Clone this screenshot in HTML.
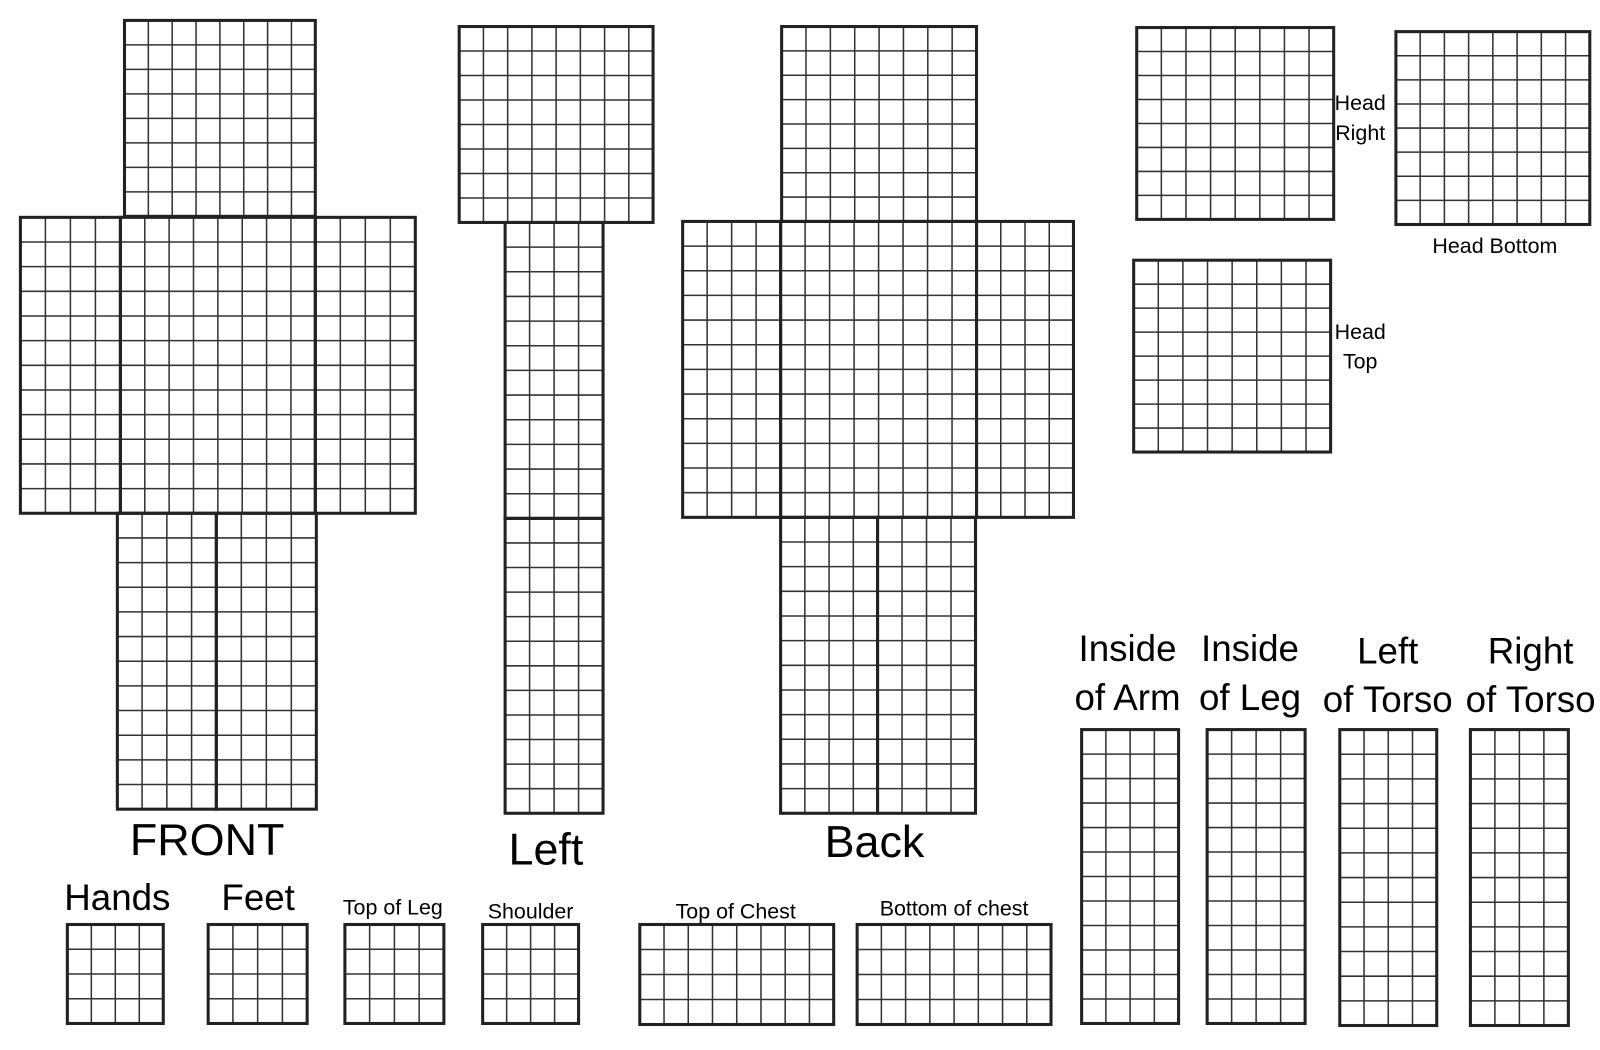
<!DOCTYPE html>
<html><head><meta charset="utf-8"><style>
html,body{margin:0;padding:0;background:#fff;width:1600px;height:1050px;overflow:hidden}
svg{display:block}
text{font-family:"Liberation Sans",sans-serif;fill:#000}
</style></head><body>
<svg id="s" width="1600" height="1050" viewBox="0 0 1568 1029" xmlns="http://www.w3.org/2000/svg">
<rect width="1568" height="1029" fill="#fff"/>
<g id="g"></g>
<g text-anchor="middle">
<text x="203" y="838" font-size="44">FRONT</text>
<text x="535" y="847" font-size="44">Left</text>
<text x="857" y="840" font-size="44">Back</text>
<text x="115" y="892" font-size="36">Hands</text>
<text x="253" y="892" font-size="36">Feet</text>
<text x="385" y="896" font-size="21">Top of Leg</text>
<text x="520" y="900" font-size="21">Shoulder</text>
<text x="721" y="900" font-size="21">Top of Chest</text>
<text x="935" y="897" font-size="21">Bottom of chest</text>
<text x="1105" y="648" font-size="36">Inside</text>
<text x="1105" y="696" font-size="36">of Arm</text>
<text x="1225" y="648" font-size="36">Inside</text>
<text x="1225" y="696" font-size="36">of Leg</text>
<text x="1360" y="650" font-size="36">Left</text>
<text x="1360" y="698" font-size="36">of Torso</text>
<text x="1500" y="650" font-size="36">Right</text>
<text x="1500" y="698" font-size="36">of Torso</text>
<text x="1333" y="108" font-size="21">Head</text>
<text x="1333" y="137" font-size="21">Right</text>
<text x="1465" y="248" font-size="21">Head Bottom</text>
<text x="1333" y="332" font-size="21">Head</text>
<text x="1333" y="361" font-size="21">Top</text>
</g>
</svg>
<script>
var B=[
[122,20,309,212,8,8],[20,213,118,503,4,12],[118,213,309,503,8,12],[309,213,407,503,4,12],
[115,503,212,793,4,12],[212,503,310,793,4,12],
[450,26,640,218,8,8],[495,218,591,508,4,12],[495,508,591,797,4,12],
[766,26,957,217,8,8],[669,217,765,507,4,12],[765,217,957,507,8,12],[957,217,1052,507,4,12],
[765,507,860,797,4,12],[860,507,956,797,4,12],
[1114,27,1307,215,8,8],[1368,31,1558,220,8,8],[1111,255,1304,443,8,8],
[1060,715,1155,1003,4,12],[1183,715,1279,1003,4,12],[1313,715,1408,1005,4,12],[1441,715,1537,1005,4,12],
[66,906,160,1003,4,4],[204,906,301,1003,4,4],[338,906,435,1003,4,4],[473,906,567,1003,4,4],
[627,906,817,1004,8,4],[840,906,1030,1004,8,4]];
var h='';
B.forEach(function(b){var x0=b[0],y0=b[1],x1=b[2],y1=b[3],c=b[4],r=b[5];
for(var i=1;i<c;i++){var x=x0+(x1-x0)*i/c;h+='<line x1="'+x+'" y1="'+y0+'" x2="'+x+'" y2="'+y1+'" stroke="#333" stroke-width="1.5"/>';}
for(var j=1;j<r;j++){var y=y0+(y1-y0)*j/r;h+='<line x1="'+x0+'" y1="'+y+'" x2="'+x1+'" y2="'+y+'" stroke="#333" stroke-width="1.5"/>';}
h+='<rect x="'+x0+'" y="'+y0+'" width="'+(x1-x0)+'" height="'+(y1-y0)+'" fill="none" stroke="#222" stroke-width="3"/>';});
document.getElementById('g').innerHTML=h;
</script>
</body></html>
